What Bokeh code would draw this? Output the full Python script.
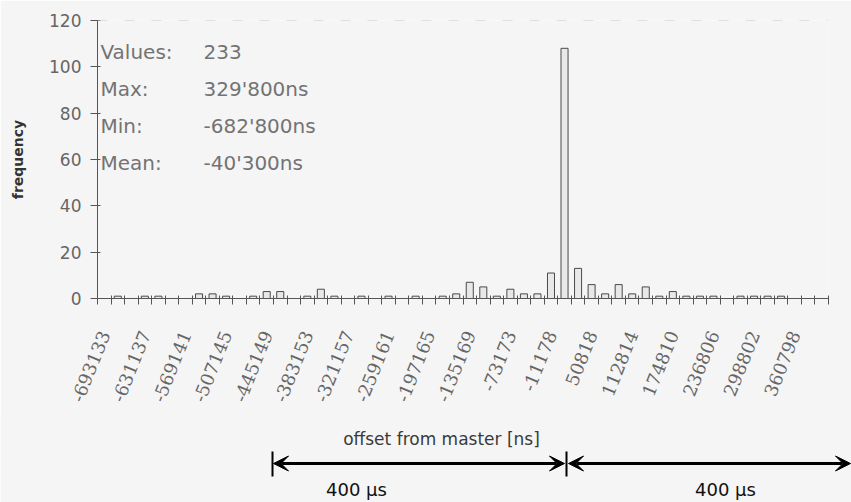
import math
from bokeh.plotting import figure
from bokeh.models import Range1d, FixedTicker, ColumnDataSource, Arrow, VeeHead, Span
from bokeh.layouts import column
from bokeh.embed import file_html
from bokeh.resources import INLINE
from bokeh.core.properties import value

# ---------------- data ----------------
bin_counts = [0, 1, 0, 1, 1, 0, 0, 2, 2, 1, 0, 1, 3, 3, 0, 1, 4, 1, 0, 1,
              0, 1, 0, 1, 0, 1, 2, 7, 5, 1, 4, 2, 2, 11, 108, 13, 6, 2, 6, 2,
              5, 1, 3, 1, 1, 1, 0, 1, 1, 1, 1, 0, 0, 0]
tick_labels = ["-693133", "-631137", "-569141", "-507145", "-445149", "-383153",
               "-321157", "-259161", "-197165", "-135169", "-73173", "-11178",
               "50818", "112814", "174810", "236806", "298802", "360798"]
label_step = 3
y_ticks = [0, 20, 40, 60, 80, 100, 120]
stat_names = ["Values:", "Max:", "Min:", "Mean:"]
stat_values = ["233", "329'800ns", "-682'800ns", "-40'300ns"]
span_labels = ["400 µs", "400 µs"]
x_title = "offset from master [ns]"
y_title = "frequency"

# ---------------- chart ----------------
W = 851
BG = "#f5f5f5"
AX = "#555555"
n_bins = len(bin_counts)
idx = [i for i, c in enumerate(bin_counts) if c > 0]
src = ColumnDataSource(dict(x=idx, top=[bin_counts[i] for i in idx]))

p = figure(width=W, height=422,
           x_range=Range1d(-0.5, n_bins - 0.5), y_range=Range1d(0, 120),
           output_backend="svg", toolbar_location=None,
           min_border_left=97, min_border_right=23, min_border_top=20, min_border_bottom=124)
p.frame_align = False
p.background_fill_color = BG
p.border_fill_color = BG
p.outline_line_color = None
p.xgrid.visible = False
p.ygrid.visible = False
p.add_layout(Span(location=120, dimension="width", line_color="#c8c8c8",
                  line_dash="10 17", line_width=1))

p.vbar(x="x", top="top", width=0.52, source=src,
       fill_color="#e8e8e8", line_color="#4a4a4a", line_width=1)

# y axis
p.yaxis.ticker = FixedTicker(ticks=y_ticks)
p.yaxis.axis_line_color = AX
p.yaxis.major_tick_line_color = AX
p.yaxis.major_tick_in = 3
p.yaxis.major_tick_out = 7
p.yaxis.minor_tick_line_color = None
p.yaxis.major_label_text_font = "DejaVu Sans"
p.yaxis.major_label_text_font_size = "17px"
p.yaxis.major_label_text_color = "#666666"
p.yaxis.major_label_standoff = 9
p.yaxis.axis_label = y_title
p.yaxis.axis_label_text_font = "DejaVu Sans"
p.yaxis.axis_label_text_font_style = "bold"
p.yaxis.axis_label_text_font_size = "14px"
p.yaxis.axis_label_text_color = "#333333"
p.yaxis.axis_label_standoff = 20

# x axis
label_pos = list(range(0, n_bins, label_step))[:len(tick_labels)]
p.xaxis.ticker = FixedTicker(ticks=label_pos,
                             minor_ticks=[i - 0.5 for i in range(n_bins + 1)])
p.xaxis.major_label_overrides = {pos: lab for pos, lab in zip(label_pos, tick_labels)}
p.xaxis.axis_line_color = AX
p.xaxis.major_tick_in = 0
p.xaxis.major_tick_out = 0
p.xaxis.minor_tick_line_color = AX
p.xaxis.minor_tick_in = 3
p.xaxis.minor_tick_out = 6
p.xaxis.major_label_orientation = math.radians(68)
p.xaxis.major_label_text_font = "DejaVu Serif"
p.xaxis.major_label_text_font_size = "18px"
p.xaxis.major_label_text_color = "#666666"
p.xaxis.major_label_standoff = 27

# statistics box
stat_col1_x, stat_col2_x = -0.28, 7.33
stat_rows = [106.5, 90.5, 74.5, 58.5]
p.text(x=[stat_col1_x] * len(stat_names), y=stat_rows, text=stat_names,
       text_font=value("DejaVu Sans"), text_font_size="20px",
       text_color="#737373", text_baseline="middle")
p.text(x=[stat_col2_x] * len(stat_values), y=stat_rows, text=stat_values,
       text_font=value("DejaVu Sans"), text_font_size="20px",
       text_color="#737373", text_baseline="middle")

# ---------------- annotation strip (page pixel coordinates) ----------------
q = figure(width=W, height=82, x_range=Range1d(0, W), y_range=Range1d(502, 420),
           output_backend="svg", toolbar_location=None, min_border=0,
           x_axis_location=None, y_axis_location=None)
q.styles = {"margin-top": "-2px"}
q.frame_align = False
q.background_fill_color = BG
q.border_fill_color = BG
q.outline_line_color = None
q.grid.visible = False

q.text(x=[441], y=[438], text=[x_title], text_font=value("DejaVu Sans"),
       text_font_size="17px", text_color="#3a3a3a",
       text_align="center", text_baseline="middle")

arrow_y = 463
for xs, xe in [(273, 564), (568, 850)]:
    q.add_layout(Arrow(start=VeeHead(size=15, fill_color="black", line_color="black"),
                       end=VeeHead(size=15, fill_color="black", line_color="black"),
                       x_start=xs, y_start=arrow_y, x_end=xe, y_end=arrow_y,
                       line_width=3, line_color="black"))
q.segment(x0=[272, 566], y0=[451, 451], x1=[272, 566], y1=[476, 476],
          line_width=2, line_color="black")
q.text(x=[356, 725], y=[489, 489], text=span_labels, text_font=value("DejaVu Sans"),
       text_font_size="18px", text_color="#111111",
       text_align="center", text_baseline="middle")

layout = column(p, q, spacing=0)
open("out.html", "w").write(file_html(layout, INLINE))
